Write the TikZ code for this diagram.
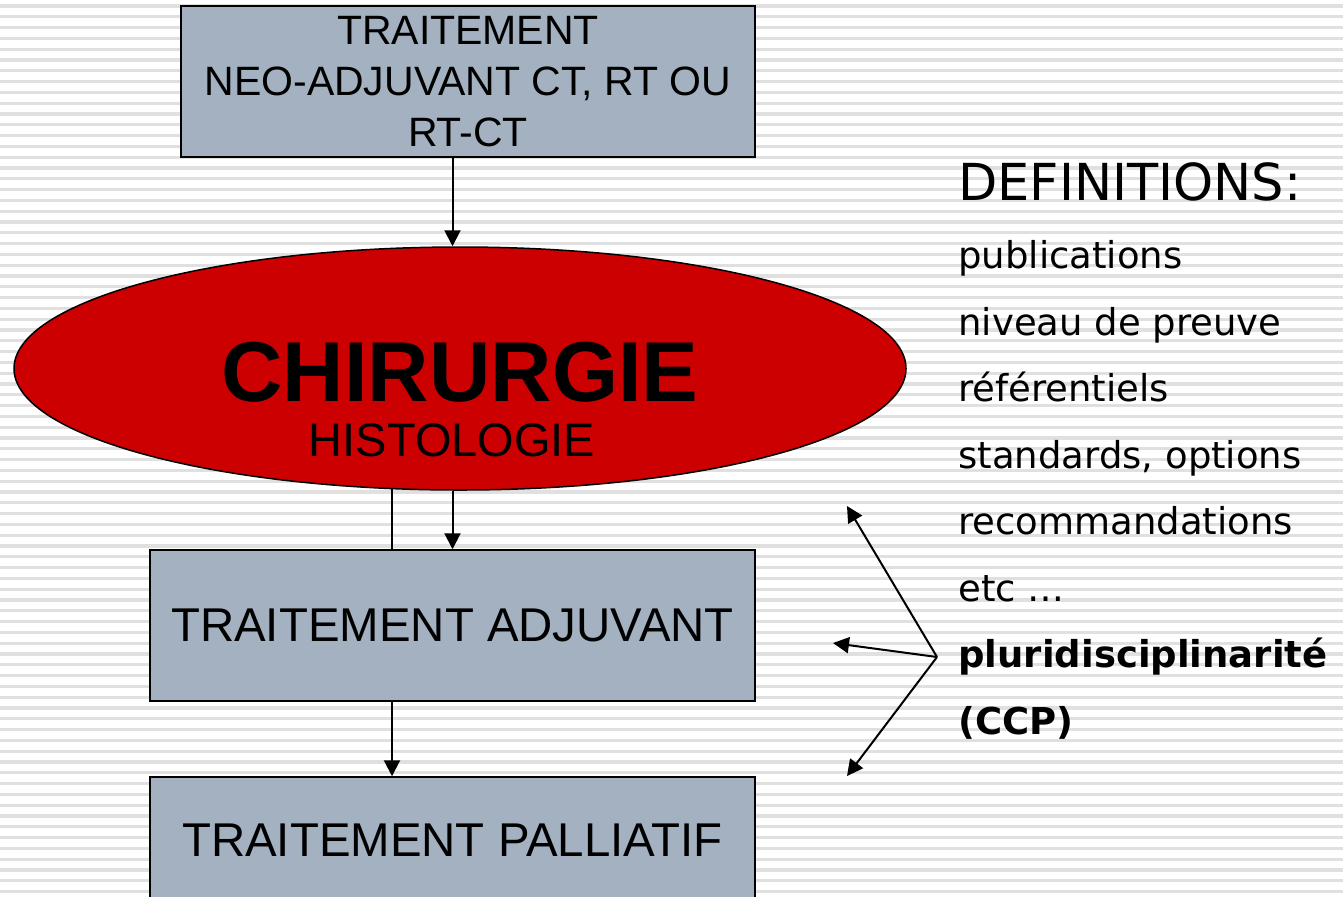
\documentclass[tikz,border=0pt]{standalone}
\usepackage{fontspec}
\setmainfont{Liberation Sans}
\newfontfamily\verdana{DejaVu Sans}
\usepackage{tikz}
\usepackage{xcolor}
\usetikzlibrary{shapes.geometric, arrows.meta, positioning, calc}
\definecolor{Box_Gray}{HTML}{A3B1C1}
\definecolor{Surg_Red}{HTML}{CC0000}
\definecolor{Stripe_Gray}{HTML}{E0E0E0}

\tikzset{
    boite/.style={draw=black, line width=0.75pt, fill=Box_Gray, inner sep=0pt, align=center},
    fleche/.style={-{Triangle[length=8pt,width=8pt]}, line width=1pt},
    defitem/.style={anchor=base west, inner sep=0pt, font=\verdana\fontsize{18.5}{22}\selectfont}
}

\begin{document}
\begin{tikzpicture}[x=0.5pt, y=-0.5pt]
    % ===== Background with stripes =====
    \fill[white] (0,0) rectangle (1343,896);
    \clip (0,0) rectangle (1343,896);
    \foreach \k in {0,...,82}
        \draw[Stripe_Gray, line width=1.6pt] (0,6+10.8*\k) -- (1343,6+10.8*\k);

    % ===== Treatment chain =====
    \node[boite, minimum width=287pt, minimum height=75.5pt, font=\fontsize{20.5}{25.5}\selectfont] (neo) at (468,81.5)
        {\rule{0pt}{6pt}TRAITEMENT\\NEO-ADJUVANT CT, RT OU\\RT-CT};

    \node[ellipse, draw=black, line width=0.75pt, fill=Surg_Red, inner sep=0pt,
          minimum width=446pt, minimum height=121.5pt] (chir) at (460,368.5) {};
    \node[anchor=base, inner sep=0pt, font=\bfseries\fontsize{42.5}{42}\selectfont] (chirtxt) at (460,401) {CHIRURGIE};
    \node[anchor=base, inner sep=0pt, font=\fontsize{23.5}{28}\selectfont] (histotxt) at (452,456) {HISTOLOGIE};

    \node[boite, minimum width=302.5pt, minimum height=75.5pt, font=\fontsize{23.7}{28}\selectfont] (adj) at (452.5,625.5)
        {TRAITEMENT ADJUVANT};
    \node[boite, minimum width=302.5pt, minimum height=63pt, font=\fontsize{23.7}{28}\selectfont] (pall) at (452.5,840)
        {TRAITEMENT PALLIATIF};

    % Connectors
    \coordinate (lk) at ($(adj.north)+(-60.5,0)$);
    \draw[fleche] (neo.south -| adj.north) -- (adj.north |- chir.north);
    \draw[fleche] (adj.north |- chir.south) -- (adj.north);
    \draw[line width=0.75pt] ($(lk |- chir.south)+(0,-2)$) -- (lk);
    \draw[fleche] (lk |- adj.south) -- (lk |- pall.north);

    % ===== Definitions =====
    \node[anchor=base west, inner sep=0pt, font=\verdana\fontsize{25.5}{30}\selectfont] (defs) at (958,200) {DEFINITIONS:};
    \node[defitem] (pub) at (958,268) {publications};
    \node[defitem] (niv) at (958,335) {niveau de preuve};
    \node[defitem] (ref) at (958,401) {référentiels};
    \node[defitem] (sor) at (958,468) {standards, options};
    \node[defitem] (rec) at (958,534) {recommandations};
    \node[defitem] (etc) at (958,601) {etc …};
    \node[defitem, font=\verdana\bfseries\fontsize{18.5}{22}\selectfont] (pluri) at (958,667) {pluridisciplinarité};
    \node[defitem, font=\verdana\bfseries\fontsize{18.5}{22}\selectfont] (ccp) at (958,734) {(CCP)};

    % Fork arrows
    \coordinate (fork) at (937,657);
    \coordinate (tipA) at (847,506);
    \coordinate (tipB) at (833,643);
    \coordinate (tipC) at (847,776);
    \draw[fleche] (fork) -- (tipA);
    \draw[fleche] (fork) -- (tipB);
    \draw[fleche] (fork) -- (tipC);
\end{tikzpicture}
\end{document}
